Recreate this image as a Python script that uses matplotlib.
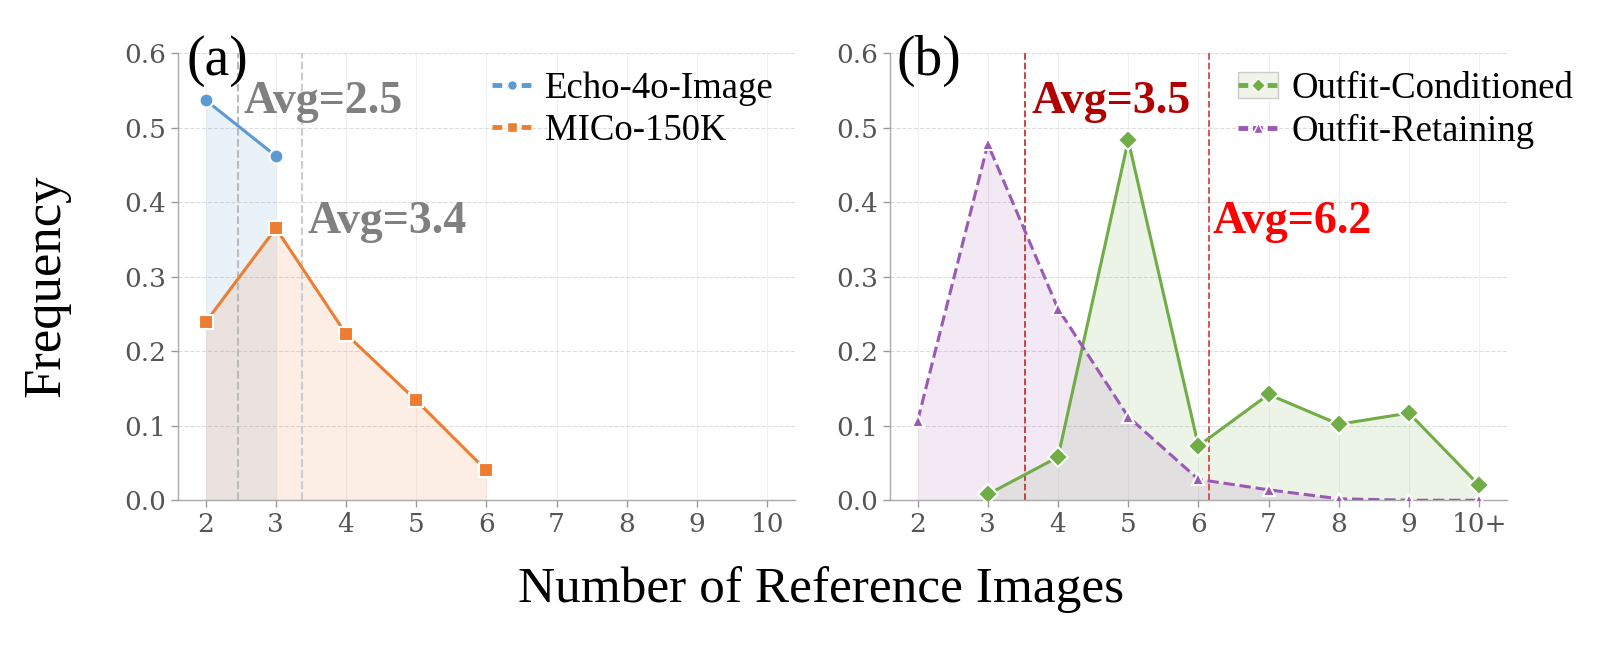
import matplotlib.pyplot as plt
import numpy as np
from matplotlib.lines import Line2D
from matplotlib.patches import Patch

plt.rcParams['font.family'] = ['Liberation Serif', 'DejaVu Serif']

# Panel (a) data
x_echo = [2, 3]
echo = [0.537, 0.462]
x_mico = [2, 3, 4, 5, 6]
mico = [0.239, 0.365, 0.223, 0.134, 0.040]

# Panel (b) data
x_cond = [3, 4, 5, 6, 7, 8, 9, 10]
cond = [0.008, 0.058, 0.483, 0.073, 0.142, 0.102, 0.117, 0.020]
x_ret = [2, 3, 4, 5, 6, 7, 8, 9, 10]
ret = [0.107, 0.478, 0.257, 0.112, 0.028, 0.014, 0.002, 0.0, 0.0]

xticks = [2, 3, 4, 5, 6, 7, 8, 9, 10]
xlabels_a = ['2', '3', '4', '5', '6', '7', '8', '9', '10']
xlabels_b = ['2', '3', '4', '5', '6', '7', '8', '9', '10+']

c_blue = '#5B9BD5'
c_orange = '#ED7D31'
c_green = '#70AD47'
c_purple = '#9B59B6'
tick_gray = '#555555'


def wmean(x, y):
    x = np.asarray(x, float)
    y = np.asarray(y, float)
    return (x * y).sum() / y.sum()


def style_axis(ax, labels):
    ax.set_xlim(1.6, 10.4)
    ax.set_ylim(0, 0.6)
    ax.set_xticks(xticks)
    ax.set_xticklabels(labels)
    yt = np.arange(0, 0.61, 0.1)
    ax.set_yticks(yt)
    ax.set_yticklabels([f'{v:.1f}' for v in yt])
    ax.tick_params(colors='#999999', labelcolor=tick_gray, length=5, width=1)
    for lab in ax.get_xticklabels() + ax.get_yticklabels():
        lab.set_fontfamily('DejaVu Serif')
        lab.set_fontsize(19)
    for s in ['top', 'right']:
        ax.spines[s].set_visible(False)
    for s in ['left', 'bottom']:
        ax.spines[s].set_color('#aaaaaa')
        ax.spines[s].set_linewidth(1.0)
    ax.grid(axis='y', color='#dddddd', linestyle='--', linewidth=0.8)
    ax.grid(axis='x', color='#f0f0f0', linestyle='-', linewidth=0.8)
    ax.set_axisbelow(True)


def add_legend(fig, handles, labels, x_px, y_px):
    fig.legend(handles, labels, loc='upper left',
               bbox_to_anchor=(x_px / 1600, 1 - y_px / 648),
               frameon=False, fontsize=26.5, handlelength=1.1,
               handletextpad=0.35, labelspacing=0.22, borderpad=0,
               borderaxespad=0)


def legend_line(color, marker):
    return Line2D([], [], color=color, lw=3.5, ls=(0, (2, 1)), marker=marker,
                  ms=7, mec='white', mew=1)


fig = plt.figure(figsize=(16, 6.48), dpi=100)
ax1 = fig.add_axes([0.111, 0.228, 0.386, 0.690])
ax2 = fig.add_axes([0.556, 0.228, 0.386, 0.690])

# (a)
style_axis(ax1, xlabels_a)
ax1.fill_between(x_echo, echo, color=c_blue, alpha=0.13, lw=0)
ax1.fill_between(x_mico, mico, color=c_orange, alpha=0.13, lw=0)
ax1.plot(x_echo, echo, color=c_blue, lw=2.2, marker='o', ms=10,
         mec='white', mew=1.5, zorder=3)
ax1.plot(x_mico, mico, color=c_orange, lw=2.2, marker='s', ms=10,
         mec='white', mew=1.5, zorder=3)
m_echo = wmean(x_echo, echo)
m_mico = wmean(x_mico, mico)
ax1.axvline(m_echo, color='#bbbbbb', ls='--', lw=1.5)
ax1.axvline(m_mico, color='#cccccc', ls='--', lw=1.5)
ax1.text(m_echo + 0.08, 0.534, f'Avg={m_echo:.1f}', fontsize=33,
         fontweight='bold', color='#808080', va='center', ha='left')
ax1.text(m_mico + 0.08, 0.374, f'Avg={m_mico:.1f}', fontsize=33,
         fontweight='bold', color='#808080', va='center', ha='left')
ax1.text(1.72, 0.59, '(a)', fontsize=40, va='center', ha='left')
h_a = [legend_line(c_blue, 'o'), legend_line(c_orange, 's')]
add_legend(fig, h_a, ['Echo-4o-Image', 'MICo-150K'], 492, 71)

# (b)
style_axis(ax2, xlabels_b)
ax2.fill_between(x_cond, cond, color=c_green, alpha=0.13, lw=0)
ax2.fill_between(x_ret, ret, color=c_purple, alpha=0.13, lw=0)
ax2.plot(x_cond, cond, color=c_green, lw=2.2, marker='D', ms=10,
         mec='white', mew=1.5, zorder=3)
ax2.plot(x_ret, ret, color=c_purple, lw=2.2, ls='--', marker='^', ms=9,
         mec='white', mew=1.5, zorder=3)
m_ret = wmean(x_ret, ret)
m_cond = wmean(x_cond, cond)
ax2.axvline(m_ret, color='#cc3333', ls='--', lw=1.3)
ax2.axvline(m_cond, color='#dd4444', ls='--', lw=1.3)
ax2.text(m_ret + 0.1, 0.534, f'Avg={m_ret:.1f}', fontsize=33,
         fontweight='bold', color='#B00000', va='center', ha='left')
ax2.text(m_cond + 0.05, 0.374, f'Avg={m_cond:.1f}', fontsize=33,
         fontweight='bold', color='#FF0000', va='center', ha='left')
ax2.text(1.70, 0.59, '(b)', fontsize=40, va='center', ha='left')
h_b = [(Patch(facecolor='#eef5e8', edgecolor='#cccccc'),
        legend_line(c_green, 'D')),
       legend_line(c_purple, '^')]
add_legend(fig, h_b, ['Outfit-Conditioned', 'Outfit-Retaining'], 1238, 71)

fig.text(0.029, 0.559, 'Frequency', rotation=90, fontsize=38,
         va='center', ha='center')
fig.text(0.513, 0.09, 'Number of Reference Images', fontsize=37,
         va='center', ha='center')

fig.savefig('out.png', dpi=100)
